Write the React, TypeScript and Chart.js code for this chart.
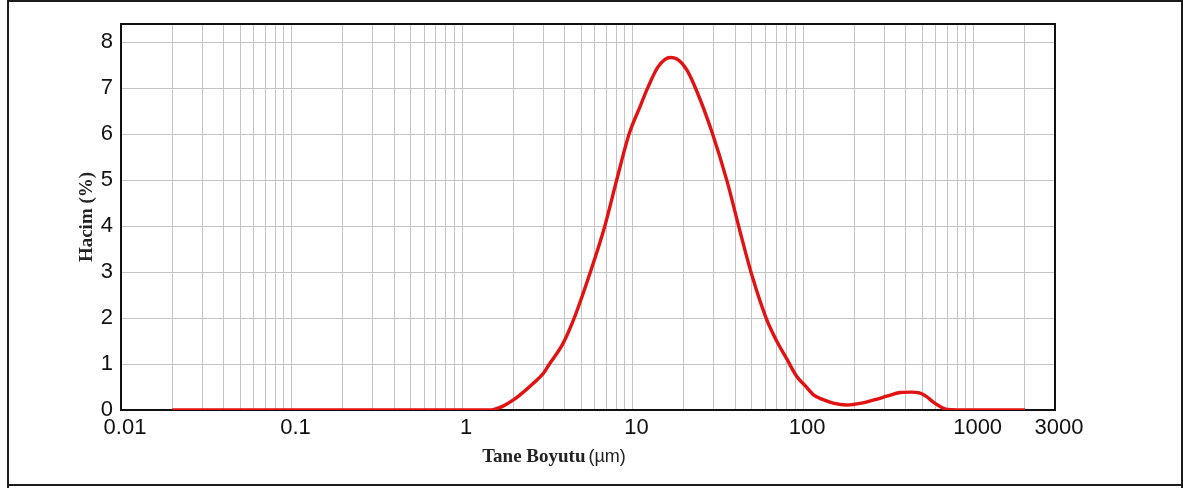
import React, { useEffect, useRef } from "react";
import { Chart, registerables } from "chart.js";

Chart.register(...registerables);

// Particle size (µm) and volume (%)
const sizes = [
  0.02, 0.05, 0.1, 0.2, 0.5, 1.0, 1.45, 1.56, 1.75, 2.0, 2.19, 2.6, 3.0, 3.24, 3.91,
  4.6, 5.63, 6.81, 8.0, 9.53, 11.0, 12.3, 14.0, 15.5, 16.6, 18.2, 20.8, 23.9, 29.2,
  35.8, 42.7, 50.2, 60.7, 70, 80.5, 91.8, 102.8, 115, 130, 150, 180, 220, 260, 310,
  370, 430, 480, 530, 580, 640, 700, 800, 1000, 1500, 2000,
];
const volumes = [
  0, 0, 0, 0, 0, 0, 0, 0.02, 0.09, 0.22, 0.33, 0.57, 0.8, 0.99, 1.45,
  2.05, 2.98, 3.95, 4.95, 6.0, 6.58, 7.02, 7.45, 7.63, 7.67, 7.64, 7.4, 6.92, 6.05,
  4.98, 3.88, 2.92, 2.0, 1.5, 1.1, 0.73, 0.53, 0.33, 0.23, 0.15, 0.11, 0.15, 0.22, 0.3,
  0.38, 0.39, 0.37, 0.29, 0.17, 0.07, 0.01, 0, 0, 0, 0,
];

// Grid positions on the logarithmic x axis and which of them carry a label
const xGridTicks = [
  0.01, 0.02, 0.03, 0.04, 0.05, 0.06, 0.07, 0.08, 0.09,
  0.1, 0.2, 0.3, 0.4, 0.5, 0.6, 0.7, 0.8, 0.9,
  1, 2, 3, 4, 5, 6, 7, 8, 9,
  10, 20, 30, 40, 50, 60, 70, 80, 90,
  100, 200, 300, 400, 500, 600, 700, 800, 900,
  1000, 2000, 3000,
];
const xLabelledTicks = [0.01, 0.1, 1, 10, 100, 1000, 3000];
const xLabelTexts = ["0.01", "0.1", "1", "10", "100", "1000", "3000"];

const yMin = 0;
const yMax = 8.4;
const yTickValues = [0, 1, 2, 3, 4, 5, 6, 7, 8];

const yTitle = "Hacim (%)";
const xTitleMain = "Tane Boyutu";
const xTitleUnit = "(µm)";

const titlesPlugin = {
  id: "customTitles",
  beforeDatasetsDraw(chart: any) {
    const { ctx, chartArea } = chart;
    ctx.save();
    ctx.strokeStyle = "#111";
    ctx.lineWidth = 2;
    ctx.strokeRect(chartArea.left, chartArea.top, chartArea.right - chartArea.left, chartArea.bottom - chartArea.top);
    ctx.restore();
  },
  afterDraw(chart: any) {
    const { ctx, chartArea } = chart;
    ctx.save();
    ctx.fillStyle = "#222";
    ctx.translate(87, (chartArea.top + chartArea.bottom) / 2);
    ctx.rotate(-Math.PI / 2);
    ctx.font = 'bold 19px "Liberation Serif"';
    ctx.textAlign = "center";
    ctx.textBaseline = "middle";
    ctx.fillText(yTitle, 0, 0);
    ctx.restore();

    ctx.save();
    ctx.fillStyle = "#222";
    ctx.textBaseline = "alphabetic";
    ctx.textAlign = "left";
    ctx.font = 'bold 19px "Liberation Serif"';
    const w1 = ctx.measureText(xTitleMain).width;
    ctx.font = '18px "Liberation Sans"';
    const w2 = ctx.measureText(xTitleUnit).width;
    const gap = 3;
    const start = 554 - (w1 + gap + w2) / 2;
    ctx.font = 'bold 19px "Liberation Serif"';
    ctx.fillText(xTitleMain, start, 462);
    ctx.font = '18px "Liberation Sans"';
    ctx.fillText(xTitleUnit, start + w1 + gap, 462);
    ctx.restore();
  },
};

export default function App() {
  const canvasRef = useRef<HTMLCanvasElement | null>(null);

  useEffect(() => {
    const canvas = canvasRef.current;
    if (!canvas) return;
    const chart = new Chart(canvas, {
      type: "line",
      data: {
        datasets: [
          {
            data: sizes.map((s, i) => ({ x: s, y: volumes[i] })),
            borderColor: "#e31212",
            borderWidth: 3.4,
            pointRadius: 0,
            fill: false,
            cubicInterpolationMode: "monotone",
          },
        ],
      },
      options: {
        responsive: false,
        animation: false,
        devicePixelRatio: 1,
        layout: { padding: { left: 0, top: 24, right: 128, bottom: 0 } },
        plugins: { legend: { display: false }, tooltip: { enabled: false } },
        scales: {
          x: {
            type: "logarithmic",
            min: 0.01,
            max: 3000,
            afterBuildTicks: (scale: any) => {
              scale.ticks = xGridTicks.map((v) => ({ value: v }));
            },
            afterFit: (scale: any) => {
              scale.height = 78;
            },
            grid: { color: "#c4c4c4", lineWidth: 1, drawTicks: false },
            border: { display: false },
            ticks: {
              autoSkip: false,
              maxRotation: 0,
              minRotation: 0,
              padding: 5,
              labelOffset: 4,
              color: "#111",
              font: { family: "Liberation Sans", size: 22 },
              callback: (value: any) => {
                const idx = xLabelledTicks.findIndex((v) => Math.abs(v - Number(value)) / v < 1e-6);
                return idx >= 0 ? xLabelTexts[idx] : "";
              },
            },
          },
          y: {
            min: yMin,
            max: yMax,
            afterBuildTicks: (scale: any) => {
              scale.ticks = yTickValues.map((v) => ({ value: v }));
            },
            afterFit: (scale: any) => {
              scale.width = 121;
            },
            grid: { color: "#c4c4c4", lineWidth: 1, drawTicks: false },
            border: { display: false },
            ticks: {
              padding: 8,
              color: "#111",
              font: { family: "Liberation Sans", size: 22 },
            },
          },
        },
      },
      plugins: [titlesPlugin],
    } as any);
    return () => chart.destroy();
  }, []);

  return (
    <div style={{ position: "absolute", left: 0, top: 0, width: 1183, height: 488, background: "#fff" }}>
      <div
        style={{
          position: "absolute",
          left: 7,
          top: 0,
          width: 1176,
          height: 486,
          border: "2px solid #1c1c1c",
          boxSizing: "border-box",
        }}
      />
      <div
        style={{
          position: "absolute",
          left: 7,
          top: 486,
          width: 1176,
          height: 10,
          borderLeft: "2px solid #1c1c1c",
          borderRight: "2px solid #1c1c1c",
          boxSizing: "border-box",
        }}
      />
      <canvas ref={canvasRef} width={1183} height={488} style={{ position: "absolute", left: 0, top: 0 }} />
    </div>
  );
}
